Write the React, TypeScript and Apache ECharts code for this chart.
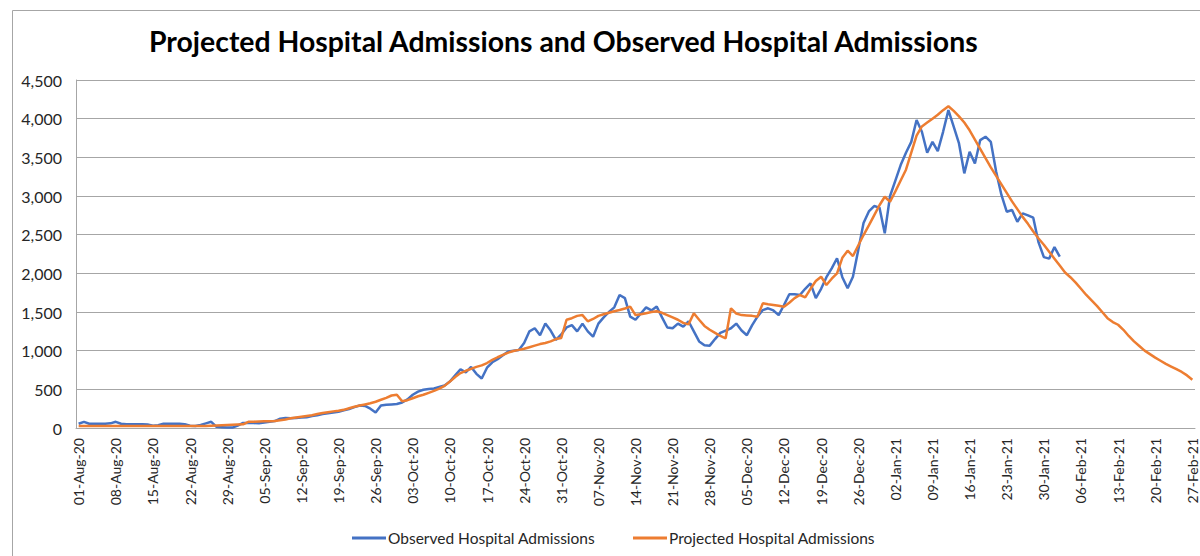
import React, { useEffect, useRef } from "react";
import * as echarts from "echarts";

const START_DATE = "2020-08-01";
const DAY_COUNT = 211;
const MONTHS = ["Jan", "Feb", "Mar", "Apr", "May", "Jun", "Jul", "Aug", "Sep", "Oct", "Nov", "Dec"];

const observed: number[] = [
  55, 80, 55, 55, 55, 55, 60, 80, 55, 50,
  50, 50, 50, 45, 30, 35, 55, 55, 55, 55,
  50, 30, 25, 40, 60, 80, 15, 10, 5, 5,
  30, 65, 65, 65, 60, 70, 80, 90, 120, 130,
  125, 130, 135, 140, 155, 165, 180, 190, 200, 210,
  230, 245, 270, 290, 285, 250, 200, 290, 300, 305,
  310, 330, 370, 430, 470, 495, 505, 510, 530, 550,
  600, 680, 760, 720, 790, 700, 640, 780, 850, 890,
  940, 990, 1000, 1010, 1100, 1250, 1290, 1200, 1350, 1260,
  1140, 1210, 1300, 1330, 1250, 1350, 1250, 1180, 1350, 1430,
  1500, 1560, 1720, 1680, 1440, 1400, 1480, 1560, 1520, 1570,
  1430, 1300, 1290, 1350, 1310, 1380, 1250, 1120, 1070, 1065,
  1150, 1230, 1260, 1290, 1350, 1260, 1200, 1330, 1440, 1525,
  1548, 1520, 1460, 1590, 1730, 1730, 1720, 1800, 1870, 1680,
  1800, 1950, 2065, 2195, 1950, 1806, 1956, 2300, 2650, 2800,
  2870, 2850, 2517, 3000, 3200, 3400, 3560, 3700, 3983, 3830,
  3560, 3700, 3580, 3830, 4110, 3896, 3680, 3293, 3573, 3420,
  3723, 3767, 3700, 3316, 3013, 2797, 2819, 2667, 2776, 2750,
  2720, 2400, 2210, 2190, 2340, 2215,
];

const projected: number[] = [
  25, 25, 25, 25, 25, 25, 25, 25, 25, 25,
  25, 25, 25, 25, 25, 25, 25, 25, 25, 25,
  25, 25, 25, 25, 25, 30, 33, 36, 39, 42,
  45, 48, 80, 82, 84, 86, 88, 90, 100, 110,
  125, 135, 145, 155, 165, 180, 195, 205, 215, 222,
  235, 255, 275, 290, 305, 320, 340, 365, 390, 420,
  430, 345, 360, 385, 410, 430, 455, 480, 510, 545,
  600, 660, 710, 740, 765, 790, 810, 840, 880, 915,
  945, 975, 995, 1010, 1025, 1045, 1065, 1085, 1100, 1120,
  1150, 1165, 1400, 1420, 1450, 1460, 1380, 1410, 1450, 1470,
  1490, 1510, 1525, 1545, 1570, 1460, 1470, 1485, 1500, 1510,
  1490, 1460, 1430, 1400, 1360, 1340, 1483, 1400, 1320, 1270,
  1230, 1190, 1160, 1548, 1480, 1460, 1455, 1450, 1440, 1612,
  1600, 1590, 1580, 1568, 1620, 1680, 1720, 1690, 1800, 1900,
  1956, 1849, 1930, 2000, 2200, 2293, 2224, 2360, 2495, 2620,
  2750, 2880, 2990, 2926, 3060, 3200, 3340, 3560, 3780, 3900,
  3950, 4000, 4050, 4110, 4160, 4100, 4030, 3950, 3850, 3730,
  3610, 3490, 3370, 3260, 3150, 3040, 2930, 2830, 2730, 2640,
  2540, 2450, 2370, 2280, 2190, 2100, 2010, 1950, 1880, 1800,
  1720, 1650, 1580, 1500, 1420, 1370, 1335, 1270, 1190, 1120,
  1060, 1000, 955, 910, 870, 830, 795, 760, 725, 680,
  625,
];

const Y_TICKS = { min: 0, max: 4500, interval: 500 };

function buildDates(): string[] {
  const out: string[] = [];
  const base = new Date(START_DATE + "T00:00:00Z").getTime();
  for (let i = 0; i < DAY_COUNT; i++) {
    const d = new Date(base + i * 86400000);
    const dd = String(d.getUTCDate()).padStart(2, "0");
    const mm = MONTHS[d.getUTCMonth()];
    const yy = String(d.getUTCFullYear() % 100).padStart(2, "0");
    out.push(`${dd}-${mm}-${yy}`);
  }
  return out;
}

const FONT = "Lato, 'Open Sans', sans-serif";

export default function App() {
  const ref = useRef<HTMLDivElement>(null);
  useEffect(() => {
    if (!ref.current) return;
    const chart = echarts.init(ref.current, undefined, { renderer: "svg" });
    const dates = buildDates();
    const legendText = { fontSize: 15.5, color: "#262626", fontFamily: FONT, padding: [0, 0, 0, -3] };
    chart.setOption({
      animation: false,
      backgroundColor: "#ffffff",
      textStyle: { fontFamily: FONT },
      title: {
        text: "Projected Hospital Admissions and Observed Hospital Admissions",
        left: 149,
        top: 27,
        padding: 0,
        textStyle: { fontSize: 28.4, fontWeight: "bold", color: "#000000", fontFamily: FONT },
      },
      graphic: [
        {
          type: "rect",
          shape: { x: 12.5, y: 10.5, width: 1250, height: 600 },
          style: { fill: "none", stroke: "#a6a6a6", lineWidth: 1 },
          silent: true,
        },
      ],
      legend: [
        {
          data: ["Observed Hospital Admissions"],
          left: 352,
          top: 530,
          padding: 0,
          icon: "rect",
          itemWidth: 34,
          itemHeight: 3,
          textStyle: legendText,
        },
        {
          data: ["Projected Hospital Admissions"],
          left: 633,
          top: 530,
          padding: 0,
          icon: "rect",
          itemWidth: 34,
          itemHeight: 3,
          textStyle: legendText,
        },
      ],
      grid: { left: 76, right: 5, top: 80, bottom: 128, containLabel: false },
      xAxis: {
        type: "category",
        data: dates,
        boundaryGap: true,
        axisLine: { show: true, lineStyle: { color: "#a6a6a6", width: 1 } },
        axisTick: { show: false },
        axisLabel: {
          interval: 6,
          rotate: 90,
          margin: 10,
          fontSize: 14,
          color: "#262626",
          fontFamily: FONT,
        },
        splitLine: { show: false },
      },
      yAxis: {
        type: "value",
        min: Y_TICKS.min,
        max: Y_TICKS.max,
        interval: Y_TICKS.interval,
        axisLine: { show: true, lineStyle: { color: "#a6a6a6", width: 1 } },
        axisTick: { show: false },
        axisLabel: {
          margin: 14,
          fontSize: 16,
          color: "#262626",
          fontFamily: FONT,
          formatter: (v: number) => v.toLocaleString("en-US"),
        },
        splitLine: { show: true, lineStyle: { color: "#a6a6a6", width: 1 } },
      },
      series: [
        {
          name: "Observed Hospital Admissions",
          type: "line",
          data: observed,
          symbol: "none",
          lineStyle: { color: "#4472C4", width: 2.5 },
          itemStyle: { color: "#4472C4" },
        },
        {
          name: "Projected Hospital Admissions",
          type: "line",
          data: projected,
          symbol: "none",
          lineStyle: { color: "#ED7D31", width: 2.5 },
          itemStyle: { color: "#ED7D31" },
        },
      ],
    });
    return () => chart.dispose();
  }, []);
  return (
    <div
      ref={ref}
      style={{ position: "fixed", left: 0, top: 0, width: 1200, height: 556 }}
    />
  );
}
